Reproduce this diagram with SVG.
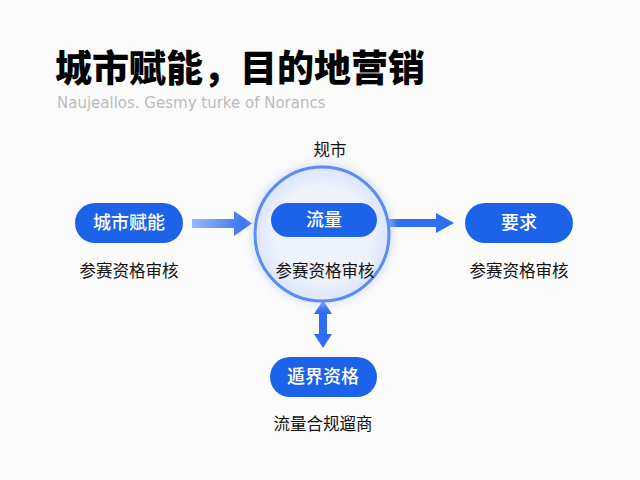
<svg xmlns="http://www.w3.org/2000/svg" width="640" height="480" viewBox="0 0 640 480">
<defs>
<style>
.pill{fill:#1d63ea}
.pt{font-family:"Noto Sans CJK SC","Noto Sans",sans-serif;font-size:18px;fill:#fff;text-anchor:middle;font-weight:500}
.lb{font-family:"Noto Sans CJK SC","Noto Sans",sans-serif;font-size:16.5px;fill:#111;text-anchor:middle}
</style>
<linearGradient id="ga" x1="0" y1="0" x2="1" y2="0">
<stop offset="0" stop-color="#9ab8f7"/>
<stop offset="1" stop-color="#2f6cf0"/>
</linearGradient>
<radialGradient id="gc" cx="0.5" cy="0.5" r="0.5">
<stop offset="0.7" stop-color="#eef2fd"/>
<stop offset="1" stop-color="#dbe5fb"/>
</radialGradient>
<filter id="glow" x="-30%" y="-30%" width="160%" height="160%">
<feGaussianBlur stdDeviation="4"/>
</filter>
</defs>
<rect width="640" height="480" fill="#fbfbfb"/>
<g id="title">
<text x="55" y="82" font-family="Noto Sans CJK SC,sans-serif" font-size="37" font-weight="900" fill="#000">城市赋能，目的地营销</text>
<text x="57" y="108" font-family="DejaVu Sans,sans-serif" font-size="15" fill="#bcbcbc">Naujeallos. Gesmy turke of Norancs</text>
</g>
<g id="connectors">
<path d="M192,219 L234,219 L234,211 L252,223.5 L234,236 L234,228 L192,228 Z" fill="url(#ga)"/>
<path d="M389,219 L436,219 L436,213 L454,223 L436,233 L436,227 L389,227 Z" fill="#2f6cf0"/>
<path d="M323,300 L332,314 L327,314 L327,334 L332,334 L323,348 L314,334 L319,334 L319,314 L314,314 Z" fill="#2f6cf0"/>
</g>
<g id="node-left">
<rect class="pill" x="75" y="203" width="108" height="40" rx="20"/>
<text class="pt" x="129" y="229">城市赋能</text>
<text class="lb" x="129" y="277">参赛资格审核</text>
</g>
<g id="node-center">
<text class="lb" x="330" y="156">规市</text>
<circle cx="322" cy="234" r="71" fill="#c9d8fa" filter="url(#glow)" opacity="0.7"/>
<circle cx="322" cy="234" r="67" fill="url(#gc)" stroke="#5c8cf2" stroke-width="3"/>
<rect class="pill" x="271" y="203" width="106" height="34" rx="17"/>
<text class="pt" x="324" y="226">流量</text>
<text class="lb" x="325" y="277">参赛资格审核</text>
</g>
<g id="node-right">
<rect class="pill" x="465" y="203" width="108" height="40" rx="20"/>
<text class="pt" x="519" y="229">要求</text>
<text class="lb" x="519" y="277">参赛资格审核</text>
</g>
<g id="node-bottom">
<rect class="pill" x="270" y="357" width="107" height="40" rx="20"/>
<text class="pt" x="323" y="383">遁界资格</text>
<text class="lb" x="323" y="430">流量合规遛商</text>
</g>
</svg>
